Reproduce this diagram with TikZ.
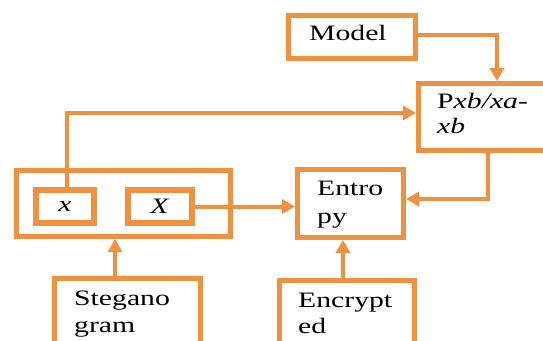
\documentclass[tikz,border=0pt]{standalone}
\usepackage{fontspec}
\setmainfont{Liberation Serif}[FakeStretch=1.35]
\usepackage{tikz}
\usetikzlibrary{arrows.meta,calc}
\definecolor{boxorange}{RGB}{240,145,66}
\tikzset{
    blockbox/.style={draw=boxorange,line width=5pt,minimum width=#1,inner sep=0pt},
    link/.style={draw=boxorange,line width=4pt,-{Triangle[length=13pt,width=14pt]}},
    boxtext/.style={anchor=base west,inner sep=0pt,align=left,font=\fontsize{22}{26}\selectfont}
}
\begin{document}
\begin{tikzpicture}[x=1pt,y=-1pt,line cap=butt,line join=miter]
    \useasboundingbox (0,0) rectangle (543,340);
    % boxes
    \node[blockbox=127pt,minimum height=43pt] (model) at (352,37) {};
    \node[blockbox=129.5pt,minimum height=67pt] (pxb) at (483.25,117) {};
    \node[blockbox=214pt,minimum height=66pt] (stegbox) at (123.5,203.5) {};
    \node[blockbox=58pt,minimum height=33pt,line width=6pt,font=\fontsize{22}{26}\selectfont] (xin) at (65,206.5) {\textit{x}};
    \node[blockbox=64pt,minimum height=33pt,line width=6pt,font=\fontsize{22}{26}\selectfont] (Xin) at (160,206.5) {\textit{X}};
    \node[blockbox=106pt,minimum height=68pt] (entropy) at (350.5,203.5) {};
    \node[blockbox=146pt,minimum height=71.5pt] (stegano) at (127.5,314) {};
    \node[blockbox=135pt,minimum height=69.5pt] (encrypted) at (347,315.25) {};
    % texts (base = last line)
    \node[boxtext] (modeltext) at (309,40) {Model};
    \node[boxtext] (pxbtext) at (437,133) {P\textit{xb/xa}-\\[-1pt]\textit{xb}};
    \node[boxtext] (entropytext) at (317,223) {Entro\\[2pt]py};
    \node[boxtext] (steganotext) at (74,332) {Stegano\\[1pt]gram};
    \node[boxtext] (encryptedtext) at (298,333) {Encrypt\\ed};
    % connectors
    \draw[link] ([yshift=2pt]model.east) -| ([xshift=13.75pt]pxb.north);
    \draw[link] ([xshift=2pt]xin.north) |- ([yshift=4pt]pxb.west);
    \draw[link] (Xin.east) -- (Xin.east -| entropy.west);
    \draw[link] ([xshift=4.75pt]pxb.south) |- ([yshift=4.5pt]entropy.east);
    \draw[link] ([xshift=-12.5pt]stegano.north) -- ([xshift=-12.5pt]stegano.north |- stegbox.south);
    \draw[link] ([xshift=-4pt]encrypted.north) -- ([xshift=-4pt]encrypted.north |- entropy.south);
\end{tikzpicture}
\end{document}
